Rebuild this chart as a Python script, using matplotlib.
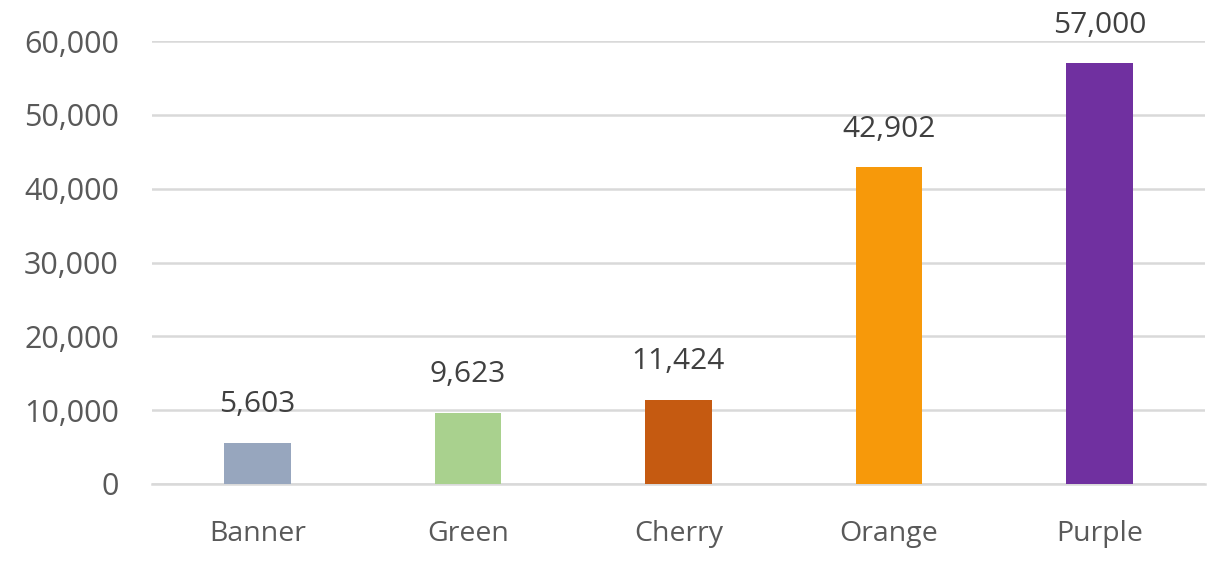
import matplotlib.pyplot as plt
from matplotlib.ticker import FuncFormatter

categories = ['Banner', 'Green', 'Cherry', 'Orange', 'Purple']
values = [5603, 9623, 11424, 42902, 57000]
colors = ['#97A6BE', '#A9D18E', '#C55A11', '#F7990A', '#7030A0']

plt.rcParams['font.family'] = ['Open Sans', 'DejaVu Sans']
text_color = '#595959'

fig = plt.figure(figsize=(12.17, 5.72), dpi=100)
ax = fig.add_axes([0.125, 0.154, 0.865, 0.774])

x = range(len(categories))
bars = ax.bar(x, values, width=0.315, color=colors, zorder=3)

for b, v in zip(bars, values):
    ax.annotate(f'{v:,}', (b.get_x() + b.get_width() / 2, v),
                xytext=(0, 17), textcoords='offset points',
                ha='center', va='bottom', fontsize=21.5, color='#404040')

ax.set_xlim(-0.5, len(categories) - 0.5)
ax.set_ylim(0, 60000)
ax.set_yticks(range(0, 60001, 10000))
ax.yaxis.set_major_formatter(FuncFormatter(lambda v, p: f'{int(v):,}'))
ax.set_xticks(list(x))
ax.set_xticklabels(categories)

ax.grid(axis='y', color='#D9D9D9', linewidth=1.8, zorder=0)
for s in ['top', 'right', 'left']:
    ax.spines[s].set_visible(False)
ax.spines['bottom'].set_color('#D9D9D9')
ax.spines['bottom'].set_linewidth(1.8)
ax.tick_params(axis='y', length=0, labelsize=22, colors=text_color, pad=24)
ax.tick_params(axis='x', length=0, labelsize=20.5, colors=text_color, pad=26)

fig.savefig('out.png', dpi=100)
